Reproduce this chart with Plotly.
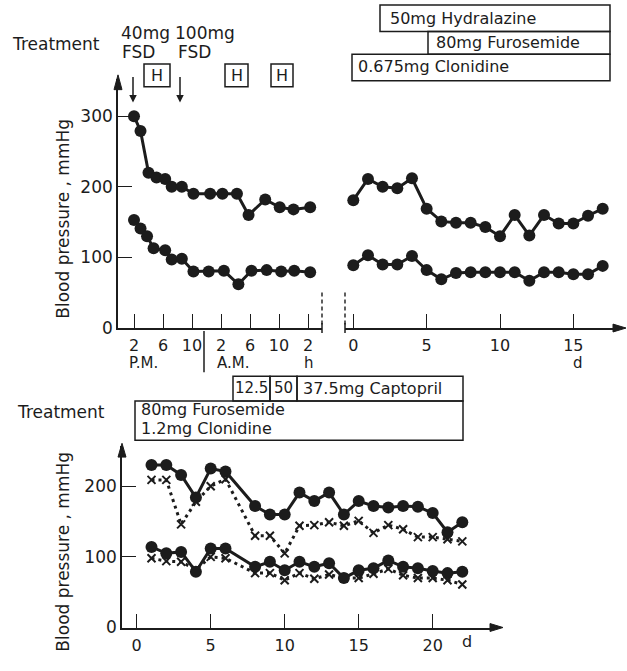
import plotly.graph_objects as go

W, H = 627, 671
INK = "#1c1c1c"
FONT = "DejaVu Sans"


def PX(x):
    return x / W


def PY(y):
    return 1 - y / H


# ---------------- data ----------------
# top-left panel (hours, 2 P.M. = 2, midnight = 12, 2 A.M. next day = 14 ...)
top_sys_hours = [2, 2.9, 4.0, 5.1, 6.3, 7.2, 8.6, 10.2, 12.5, 14.2, 16.2, 17.8, 20.1, 22.1, 24.0, 26.3]
top_sys = [300, 279, 220, 213, 211, 200, 200, 190, 190, 190, 190, 160, 182, 171, 168, 171]
top_dia_hours = [2, 2.9, 3.8, 4.7, 6.3, 7.2, 8.6, 10.2, 12.3, 14.4, 16.4, 18.2, 20.3, 22.3, 24.1, 26.3]
top_dia = [153, 141, 130, 113, 110, 97, 98, 80, 80, 81, 62, 81, 82, 80, 81, 79]
hour_tickvals = [2, 6, 10, 14, 18, 22, 26]
hour_ticktext = ["2", "6", "10", "2", "6", "10", "2"]

# top-right panel (days)
right_days = list(range(0, 18))
right_sys = [181, 211, 200, 198, 212, 169, 151, 149, 149, 143, 130, 160, 131, 160, 148, 148, 159, 169]
right_dia = [89, 103, 90, 90, 102, 82, 69, 78, 79, 79, 79, 79, 67, 79, 79, 76, 76, 88]
right_tickvals = [0, 5, 10, 15]

# bottom panel (days)
bot_days = [1, 2, 3, 4, 5, 6, 8, 9, 10, 11, 12, 13, 14, 15, 16, 17, 18, 19, 20, 21, 22]
bot_sys_solid = [230, 230, 216, 184, 225, 221, 172, 160, 160, 191, 179, 191, 160, 179, 172, 170, 172, 171, 162, 135, 149]
bot_sys_dot = [209, 209, 146, 178, 200, 210, 130, 130, 105, 144, 145, 149, 144, 151, 134, 145, 139, 128, 128, 125, 122]
bot_dia_solid = [114, 105, 107, 79, 112, 112, 86, 93, 81, 93, 86, 91, 70, 81, 84, 95, 86, 84, 80, 77, 79]
bot_dia_dot = [98, 94, 93, 82, 100, 98, 77, 77, 67, 77, 69, 75, 70, 70, 76, 83, 74, 70, 70, 67, 61]
bot_tickvals = [0, 5, 10, 15, 20]

bp_tickvals = [0, 100, 200, 300]
bp_tickvals_b = [0, 100, 200]

fig = go.Figure()

solid_line = dict(color=INK, width=3)
dot_marker = dict(color=INK, size=12, symbol="circle")
dotted_line = dict(color=INK, width=3, dash="3px,4px")
x_marker = dict(color=INK, size=8, symbol="x-thin", line=dict(color=INK, width=2))

for xs, ys in [(top_sys_hours, top_sys), (top_dia_hours, top_dia)]:
    fig.add_trace(go.Scatter(x=xs, y=ys, mode="lines+markers", line=solid_line,
                             marker=dot_marker, xaxis="x", yaxis="y"))
for ys in [right_sys, right_dia]:
    fig.add_trace(go.Scatter(x=right_days, y=ys, mode="lines+markers", line=solid_line,
                             marker=dot_marker, xaxis="x2", yaxis="y2"))
for ys in [bot_sys_dot, bot_dia_dot]:
    fig.add_trace(go.Scatter(x=bot_days, y=ys, mode="lines+markers", line=dotted_line,
                             marker=x_marker, xaxis="x3", yaxis="y3"))
for ys in [bot_sys_solid, bot_dia_solid]:
    fig.add_trace(go.Scatter(x=bot_days, y=ys, mode="lines+markers", line=solid_line,
                             marker=dot_marker, xaxis="x3", yaxis="y3"))

axis_common = dict(showline=True, linecolor=INK, linewidth=1.6, ticks="inside", ticklen=14,
                   tickwidth=1.4, tickcolor=INK, showgrid=False, zeroline=False,
                   tickfont=dict(family=FONT, size=17, color=INK), fixedrange=True)
xaxis_extra = dict(ticklabelstandoff=2, tickfont=dict(family=FONT, size=16, color=INK))

# pixel mapping
h_px0, h_ppu = 134.0, 7.25           # hour 2 at px 134
d_px0, d_ppu = 353.3, 14.67          # day 0 at px 353.3
b_px0, b_ppu = 136.7, 14.8           # day 0 at px 136.7 (bottom)
y_ppu = 0.717                        # px per mmHg

fig.update_layout(
    width=W, height=H, margin=dict(l=0, r=0, t=0, b=0),
    paper_bgcolor="white", plot_bgcolor="white", showlegend=False,
    font=dict(family=FONT, color=INK, size=17),
    xaxis=dict(axis_common, **xaxis_extra, domain=[PX(118), PX(322)], anchor="y",
               range=[2 + (118 - h_px0) / h_ppu, 2 + (322 - h_px0) / h_ppu],
               tickvals=hour_tickvals, ticktext=hour_ticktext),
    yaxis=dict(axis_common, domain=[PY(333), PY(80)], anchor="x",
               range=[0, (333 - 80) / y_ppu], tickvals=bp_tickvals),
    xaxis2=dict(axis_common, **xaxis_extra, domain=[PX(345), PX(617)], anchor="y2",
                range=[(345 - d_px0) / d_ppu, (617 - d_px0) / d_ppu], tickvals=right_tickvals),
    yaxis2=dict(domain=[PY(333), PY(80)], anchor="x2", range=[0, (333 - 80) / y_ppu],
                visible=False, fixedrange=True),
    xaxis3=dict(axis_common, **xaxis_extra, domain=[PX(122), PX(493)], anchor="y3",
                range=[(122 - b_px0) / b_ppu, (493 - b_px0) / b_ppu], tickvals=bot_tickvals),
    yaxis3=dict(axis_common, domain=[PY(637), PY(453)], anchor="x3",
                range=[0, (637 - 453) / y_ppu], tickvals=bp_tickvals_b),
)

shapes = []


def rect(x0, y0, x1, y1, w=1.5):
    shapes.append(dict(type="rect", xref="paper", yref="paper", x0=PX(x0), x1=PX(x1),
                       y0=PY(y1), y1=PY(y0), line=dict(color=INK, width=w)))


def line(x0, y0, x1, y1, w=1.5, dash="solid"):
    shapes.append(dict(type="line", xref="paper", yref="paper", x0=PX(x0), x1=PX(x1),
                       y0=PY(y0), y1=PY(y1), line=dict(color=INK, width=w, dash=dash)))


def tri(pts):
    path = "M " + " L ".join(f"{PX(x)},{PY(y)}" for x, y in pts) + " Z"
    shapes.append(dict(type="path", xref="paper", yref="paper", path=path,
                       fillcolor=INK, line=dict(color=INK, width=1)))


# axis arrowheads
tri([(118, 76), (114, 91), (122, 91)])
tri([(626, 333), (613, 329), (613, 337)])
tri([(503, 637), (490, 633), (490, 641)])
tri([(122, 450), (118, 464), (126, 464)])

# axis break
line(322, 297, 322, 330, 1.4, "4px,3px")
line(345, 297, 345, 330, 1.4, "4px,3px")
line(322, 328, 322, 338, 1.5)
line(345, 328, 345, 338, 1.5)

# P.M./A.M. divider
line(204, 336, 204, 378, 1.5)

# top-right treatment boxes
rect(380, 5, 610, 32)
rect(428, 32, 610, 55)
rect(352, 55, 610, 82)

# H boxes
for x0, x1 in [(144, 170), (225, 248), (271, 293)]:
    rect(x0, 65, x1, 88, 1.5)

# bottom treatment boxes
rect(233, 382, 270, 407)
rect(270, 382, 297, 407)
rect(297, 382, 463, 407)
rect(135, 407, 463, 447)

fig.update_layout(shapes=shapes)

ann = []


def text(x, y, s, anchor="left", size=17, angle=0):
    ann.append(dict(x=PX(x), y=PY(y), xref="paper", yref="paper", text=s, showarrow=False,
                    xanchor=anchor, yanchor="middle", textangle=angle,
                    font=dict(family=FONT, size=size, color=INK)))


text(10, 45, "Treatment")
text(119, 33, "40mg")
text(120, 53, "FSD")
text(173, 33, "100mg")
text(176, 53, "FSD")
for cx in [157, 236.5, 282]:
    text(cx, 77, "H", "center", 16)

text(388, 19, "50mg Hydralazine", size=16)
text(434, 43, "80mg Furosemide", size=16)
text(356, 68, "0.675mg Clonidine", size=16)

text(143, 368, "P.M.", "center", 15)
text(233, 368, "A.M.", "center", 15)
text(309, 368, "h", "center", 15)
text(578, 368, "d", "center", 15)
text(467, 651, "d", "center", 16)

text(15, 418, "Treatment")
text(251.5, 394, "12.5", "center", 15)
text(283.5, 394, "50", "center", 15)
text(301, 394, "37.5mg Captopril", size=16)
text(139, 416, "80mg Furosemide", size=16)
text(139, 435, "1.2mg Clonidine", size=16)

text(63, 222, "Blood pressure , mmHg", "center", 17, -90)
text(63, 560, "Blood pressure , mmHg", "center", 17, -90)

for x in [133, 180]:
    ann.append(dict(x=PX(x), y=PY(104), xref="paper", yref="paper", ax=0, ay=-27,
                    showarrow=True, arrowhead=2, arrowsize=1, arrowwidth=1.5,
                    arrowcolor=INK, text=""))

fig.update_layout(annotations=ann)

fig.write_html("out.html")
